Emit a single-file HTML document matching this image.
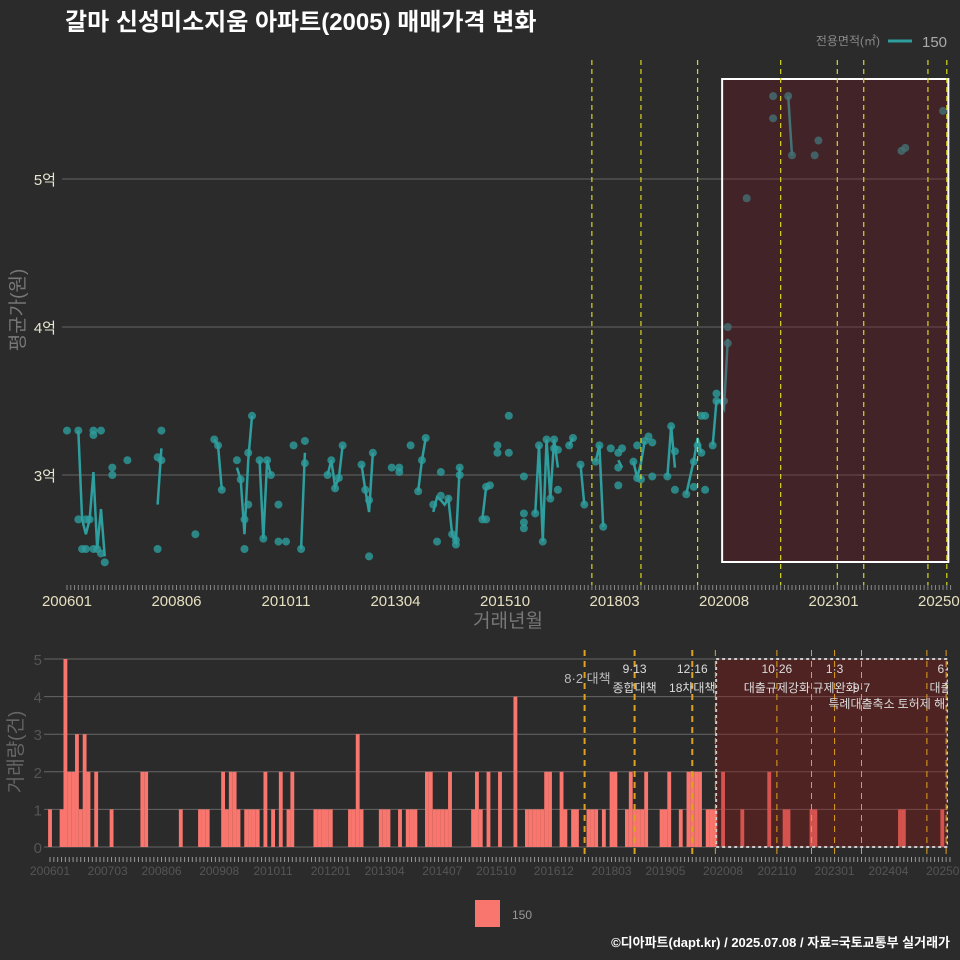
<!DOCTYPE html>
<html><head><meta charset="utf-8">
<style>
body{margin:0;background:#2b2b2b;}
svg{display:block;font-family:"Liberation Sans","Noto Sans CJK KR",sans-serif;}
</style></head>
<body>
<svg id="c" width="960" height="960" viewBox="0 0 960 960">
<rect width="960" height="960" fill="#2b2b2b"/>
<defs><clipPath id="cb"><rect x="40" y="645" width="908" height="215"/></clipPath><clipPath id="ct"><rect x="40" y="50" width="910" height="540"/></clipPath></defs>
<text x="65" y="30" fill="#fff" font-size="24" font-weight="bold">갈마 신성미소지움 아파트(2005) 매매가격 변화</text>
<text x="880" y="45" fill="#888" font-size="12" text-anchor="end">전용면적(㎡)</text>
<line x1="888" y1="41" x2="912" y2="41" stroke="#2e9e9e" stroke-width="3"/>
<text x="922" y="47" fill="#aaa" font-size="15">150</text>
<text transform="translate(24,310) rotate(-90)" fill="#777" font-size="19" text-anchor="middle">평균가(원)</text>
<text x="508" y="627" fill="#777" font-size="19" text-anchor="middle">거래년월</text>
<text transform="translate(22,752) rotate(-90)" fill="#666" font-size="19" text-anchor="middle">거래량(건)</text>
<rect x="475" y="900" width="25" height="27" fill="#f8766d"/>
<text x="512" y="919" fill="#999" font-size="12">150</text>
<text x="950" y="947" fill="#fff" font-size="13" font-weight="bold" text-anchor="end">©디아파트(dapt.kr) / 2025.07.08 / 자료=국토교통부 실거래가</text>
<g id="top"></g><g id="bot"></g>
</svg>
<script>
// month index 0 = 2006-01
const pricePoints=[[0,3.30],[3,3.30],[3,2.70],[4,2.50],[5,2.70],[5,2.50],[6,2.70],[7,3.30],[7,3.27],[7,2.50],[9,3.30],[8,2.50],[9,2.47],[10,2.41],[12,3.05],[12,3.00],[16,3.10],[24,2.50],[24,3.12],[25,3.30],[25,3.10],[34,2.60],[39,3.24],[40,3.20],[41,2.90],[45,3.10],[46,2.97],[47,2.50],[47,2.70],[48,2.80],[48,3.15],[49,3.40],[51,3.10],[52,2.57],[53,3.10],[54,3.00],[56,2.55],[56,2.80],[58,2.55],[60,3.20],[62,2.50],[63,3.08],[63,3.23],[69,3.00],[70,3.10],[71,2.91],[72,2.98],[73,3.20],[78,3.07],[79,2.90],[80,2.45],[80,2.83],[81,3.15],[86,3.05],[88,3.05],[88,3.02],[91,3.20],[93,2.89],[94,3.10],[95,3.25],[97,2.80],[98,2.55],[99,3.02],[99,2.86],[101,2.84],[102,2.60],[103,2.56],[103,2.53],[104,3.05],[104,3.00],[110,2.70],[111,2.70],[111,2.92],[112,2.93],[114,3.20],[114,3.15],[117,3.40],[117,3.15],[121,2.99],[121,2.74],[121,2.68],[121,2.64],[124,2.74],[125,3.20],[126,2.55],[127,3.24],[128,2.84],[129,3.24],[129,3.18],[130,3.17],[130,2.90],[133,3.20],[134,3.25],[136,3.07],[137,2.80],[140,3.09],[141,3.20],[142,2.65],[144,3.18],[146,2.93],[146,3.15],[147,3.18],[146,3.05],[150,3.09],[151,3.20],[151,2.98],[152,2.97],[153,3.23],[154,3.26],[155,3.22],[155,2.99],[159,2.99],[160,3.33],[161,3.16],[161,2.90],[164,2.87],[166,3.09],[167,3.20],[166,2.92],[168,3.40],[169,3.40],[168,3.15],[169,2.90],[171,3.20],[172,3.50],[172,3.55],[174,3.50],[175,4.00],[175,3.89],[180,4.87],[187,5.56],[187,5.41],[191,5.56],[192,5.16],[198,5.16],[199,5.26],[221,5.19],[222,5.21],[232,5.46]];
const priceLine=[[3,3.30],[4,2.70],[5,2.60],[6,2.70],[7,3.02],[8,2.50],[9,2.77],[10,2.45],null,[24,2.80],[25,3.18],null,[39,3.24],[40,3.20],[41,2.90],null,[45,3.05],[46,2.97],[47,2.60],[48,3.10],[49,3.40],null,[51,3.10],[52,2.57],[53,3.10],[54,3.00],null,[62,2.50],[63,3.15],null,[69,3.00],[70,3.10],[71,2.92],[72,2.98],[73,3.20],null,[78,3.07],[79,2.90],[80,2.75],[81,3.15],null,[93,2.89],[94,3.10],[95,3.25],null,[97,2.75],[98,2.85],[99,2.83],[100,2.80],[101,2.84],[102,2.60],[103,2.55],[104,3.05],null,[110,2.70],[111,2.92],null,[124,2.74],[125,3.20],[126,2.55],[127,3.24],[128,2.84],[129,3.24],[130,3.05],null,[133,3.20],[134,3.25],null,[136,3.07],[137,2.80],null,[140,3.09],[141,3.20],[142,2.65],null,[146,3.10],[147,3.05],null,[150,3.09],[151,2.98],[152,3.08],[153,3.23],null,[159,2.99],[160,3.33],[161,3.05],null,[164,2.87],[166,3.10],[167,3.25],[168,3.15],null,[171,3.20],[172,3.50],[173,3.50],[174,3.45],[175,3.92],null,[191,5.56],[192,5.16]];
const volMonths=[0,3,4,5,6,7,8,9,10,12,16,24,25,34,39,40,41,45,46,47,48,49,51,52,53,54,56,58,60,62,63,69,70,71,72,73,78,79,80,81,86,87,88,91,93,94,95,98,99,100,101,102,103,104,110,111,112,114,117,121,124,125,126,127,128,129,130,133,134,136,137,140,141,142,144,146,147,150,151,152,153,154,155,159,160,161,164,166,167,168,169,171,172,173,175,180,187,191,192,198,199,221,222,232];
const volCounts=[1,1,5,2,2,3,1,3,2,2,1,2,2,1,1,1,1,2,1,2,2,1,1,1,1,1,2,1,2,1,2,1,1,1,1,1,1,1,3,1,1,1,1,1,1,1,1,2,2,1,1,1,1,2,1,2,1,2,2,4,1,1,1,1,1,2,2,2,1,1,1,1,1,1,1,2,2,1,2,1,1,1,2,1,1,2,1,2,2,2,2,1,1,1,2,1,2,1,1,1,1,1,1,1];
const topTicks=["200601","200806","201011","201304","201510","201803","202008","202301","202506"];
const botTicks=["200601","200703","200806","200908","201011","201201","201304","201407","201510","201612","201803","201905","202008","202110","202301","202404","202506"];
const priceTicks=[3,4,5];
const volTicks=[0,1,2,3,4,5];
const topPolicyMonths=[139,152,167,189,204,211,228,233];
const botPolicyMonths=[139,152,167,173,189,198,204,211,228,233];
const policyLabels=[[139,"8·2 대책",""],[152,"9·13","종합대책"],[167,"12·16","18차대책"],[189,"10·26","대출규제강화"],[204,"1·3","규제완화"],[211,"","9·7"],[233,"6·2","대출규"]];
const policyLabels2=[[211,"특례대출축소"],[228,"토허제 해제"]];
const shadeStart=173.5, shadeEnd=233.4;

const NS="http://www.w3.org/2000/svg";
function mk(p,t,a){const e=document.createElementNS(NS,t);for(const k in a)e.setAttribute(k,a[k]);p.appendChild(e);return e;}
const xT=m=>67+m*3.776, yT=v=>475-(v-3)*148;
const xB=m=>50+m*3.846, yB=v=>847-v*37.6;
const T=document.getElementById('top'), B=document.getElementById('bot');

// top grid
priceTicks.forEach(v=>{
 const l=mk(T,'line',{x1:62,x2:950,y1:yT(v),y2:yT(v),stroke:'#666','stroke-width':1});
 
 
 const t=mk(T,'text',{x:56,y:yT(v)+6,fill:'#e6e6d0','font-size':15,'text-anchor':'end'});t.textContent=v+'억';
 
 
});
for(let m=0;m<=234;m++){const l=mk(T,'line',{x1:xT(m),x2:xT(m),y1:585,y2:590,stroke:'#888','stroke-width':1});
 
 }
topTicks.forEach((s,i)=>{const m=i*29;const t=mk(T,'text',{x:xT(m),y:606,fill:'#e6e0c0','font-size':15,'text-anchor':'middle'});t.textContent=s;
 
 });
const gT=mk(T,'g',{'clip-path':'url(#ct)'});
// line
let d='',pen=false;
priceLine.forEach(p=>{if(!p){pen=false;return;}d+=(pen?'L':'M')+xT(p[0])+','+yT(p[1]);pen=true;});
const pl=mk(gT,'path',{d:d,fill:'none',stroke:'#2e9e9e','stroke-width':2.5});


pricePoints.forEach(p=>{const c=mk(gT,'circle',{cx:xT(p[0]),cy:yT(p[1]),r:4,fill:'#2e9e9e','fill-opacity':0.8});
 
 });
const sr=mk(gT,'rect',{x:xT(shadeStart),y:79,width:xT(shadeEnd)-xT(shadeStart),height:483,fill:'rgba(115,20,30,0.32)',stroke:'#fff','stroke-width':2});


topPolicyMonths.forEach(m=>{const l=mk(gT,'line',{x1:xT(m),x2:xT(m),y1:60,y2:585,stroke:'#d8d820','stroke-width':1.2,'stroke-dasharray':'5,4'});
 
 });

// bottom
volTicks.forEach(v=>{
 const l=mk(B,'line',{x1:44,x2:948,y1:yB(v),y2:yB(v),stroke:'#666','stroke-width':1});
 
 
 const t=mk(B,'text',{x:42,y:yB(v)+6,fill:'#555','font-size':15,'text-anchor':'end'});t.textContent=v;
 
 
});
for(let m=0;m<=234;m++){const l=mk(B,'line',{x1:xB(m),x2:xB(m),y1:857,y2:862,stroke:'#999','stroke-width':1});
 
 }
botTicks.forEach((s,i)=>{const m=i*14.56;const t=mk(B,'text',{x:xB(Math.round(m)),y:875,fill:'#555','font-size':12,'text-anchor':'middle'});t.textContent=s;
 
 });
const gB=mk(B,'g',{'clip-path':'url(#cb)'});
volMonths.forEach((m,i)=>{const h=volCounts[i];const r=mk(gB,'rect',{x:xB(m)-1.9,y:yB(h),width:3.85,height:yB(0)-yB(h),fill:'#f8766d'});
 
 });
const sb=mk(gB,'rect',{x:xB(shadeStart-0.3),y:659,width:xB(shadeEnd)-xB(shadeStart-0.3),height:188,fill:'rgba(150,20,20,0.35)',stroke:'#ccc','stroke-width':2,'stroke-dasharray':'3,3'});


botPolicyMonths.forEach(m=>{const l=mk(gB,'line',{x1:xB(m),x2:xB(m),y1:650,y2:855,stroke:'#e0a020','stroke-width':m>=173?1:2,'stroke-dasharray':'6,5'});
 
 });
policyLabels.forEach(p=>{
 const x=xB(p[0]);
 if(p[0]===139){const t=mk(gB,'text',{x:x+26,y:683,fill:'#bbb','font-size':13,'text-anchor':'end'});t.textContent=p[1];
  
  return;}
 if(p[1]){const t=mk(gB,'text',{x:x,y:673,fill:'#ddd','font-size':12,'text-anchor':'middle'});t.textContent=p[1];
  
  }
 const t2=mk(gB,'text',{x:x,y:692,fill:'#ddd','font-size':12,'text-anchor':'middle'});t2.textContent=p[2];
 
 
});
policyLabels2.forEach(p=>{const t=mk(gB,'text',{x:xB(p[0]),y:708,fill:'#ddd','font-size':12,'text-anchor':'middle'});t.textContent=p[1];
 
 });
</script>
</body></html>
